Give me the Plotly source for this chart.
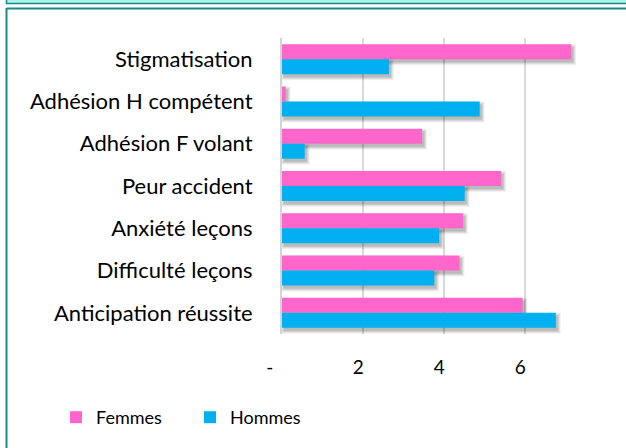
import plotly.graph_objects as go

categories = ["Stigmatisation", "Adhésion H compétent", "Adhésion F volant",
              "Peur accident", "Anxiété leçons", "Difficulté leçons",
              "Anticipation réussite"]
femmes = [7.14, 0.09, 3.46, 5.41, 4.47, 4.38, 5.94]
hommes = [2.64, 4.88, 0.56, 4.51, 3.88, 3.76, 6.76]
tick_vals = [0, 2, 4, 6]
tick_text = ["-\u00a0\u00a0\u00a0\u00a0\u00a0", "2\u00a0\u00a0", "4\u00a0\u00a0", "6\u00a0\u00a0"]

PINK = "#FF66CC"
BLUE = "#00B0F0"
TEAL = "#1A8A85"
FONT = "Lato"

W, H = 626, 448
ML, MR, MT, MB = 282, 24, 38, 114
XMAX = 7.9
pw, ph = W - ML - MR, H - MT - MB
px_x = XMAX / pw                      # data units per px (x)
px_y = len(categories) / ph           # data units per px (y)
bw = 15 * px_y                        # bar thickness in category units

fig = go.Figure()

# soft shadows (bottom-right) to mimic the Excel effect
for spread, alpha in [(3.0, 0.05), (2.0, 0.07), (1.0, 0.09), (0.0, 0.08)]:
    for vals, off in [(femmes, -bw), (hommes, 0)]:
        fig.add_trace(go.Bar(
            y=categories, x=[v + 2 * spread * px_x for v in vals],
            base=(2 - spread) * px_x, orientation="h",
            width=bw + 2 * spread * px_y, offset=off + (3 - spread) * px_y,
            marker=dict(color=f"rgba(0,0,0,{alpha})", line=dict(width=0)),
            showlegend=False, hoverinfo="skip"))

fig.add_trace(go.Bar(y=categories, x=femmes, name="Femmes", orientation="h",
                     width=bw, offset=-bw, marker=dict(color=PINK, line=dict(width=0))))
fig.add_trace(go.Bar(y=categories, x=hommes, name="Hommes", orientation="h",
                     width=bw, offset=0, marker=dict(color=BLUE, line=dict(width=0))))

def sx(p):
    return (p - ML) / pw

def sy(p):
    return 1 - (p - MT) / ph

shapes = [
    dict(type="rect", xref="paper", yref="paper", x0=sx(6.5), x1=sx(640), y0=sy(-5), y1=sy(3.5),
         fillcolor="#ABF2EE", line=dict(color=TEAL, width=1.5), layer="below"),
    dict(type="line", xref="paper", yref="paper", x0=sx(6.5), x1=sx(640), y0=sy(8.5), y1=sy(8.5),
         line=dict(color=TEAL, width=2), layer="below"),
    dict(type="line", xref="paper", yref="paper", x0=sx(6.5), x1=sx(6.5), y0=sy(8), y1=sy(460),
         line=dict(color=TEAL, width=2), layer="below"),
]

fig.update_layout(
    width=W, height=H, barmode="overlay",
    margin=dict(l=ML, r=MR, t=MT, b=MB, pad=0),
    paper_bgcolor="white", plot_bgcolor="white",
    font=dict(family=FONT, color="#000000"),
    shapes=shapes,
    xaxis=dict(range=[0, XMAX], tickvals=tick_vals, ticktext=tick_text,
               showgrid=True, gridcolor="#D9D9D9", gridwidth=1.5, zeroline=False,
               showline=False, ticks="", tickfont=dict(size=19, family=FONT),
               ticklabelstandoff=20, fixedrange=True),
    yaxis=dict(type="category", categoryorder="array", categoryarray=categories,
               range=[len(categories) - 0.5, -0.5], showgrid=False, zeroline=False,
               showline=True, linecolor="#D4D4D4", linewidth=2, ticks="",
               tickfont=dict(size=22, family=FONT), ticklabelstandoff=23, fixedrange=True),
    legend=dict(orientation="h", xref="container", yref="container",
                x=56 / W, y=1 - 399 / H, xanchor="left", yanchor="top",
                font=dict(size=18, family=FONT), itemwidth=30, entrywidth=89,
                traceorder="normal", bgcolor="rgba(0,0,0,0)"),
)

fig.write_html("out.html", config={"displayModeBar": False},
               post_script="document.body.style.margin='0';document.body.style.overflow='hidden';")
